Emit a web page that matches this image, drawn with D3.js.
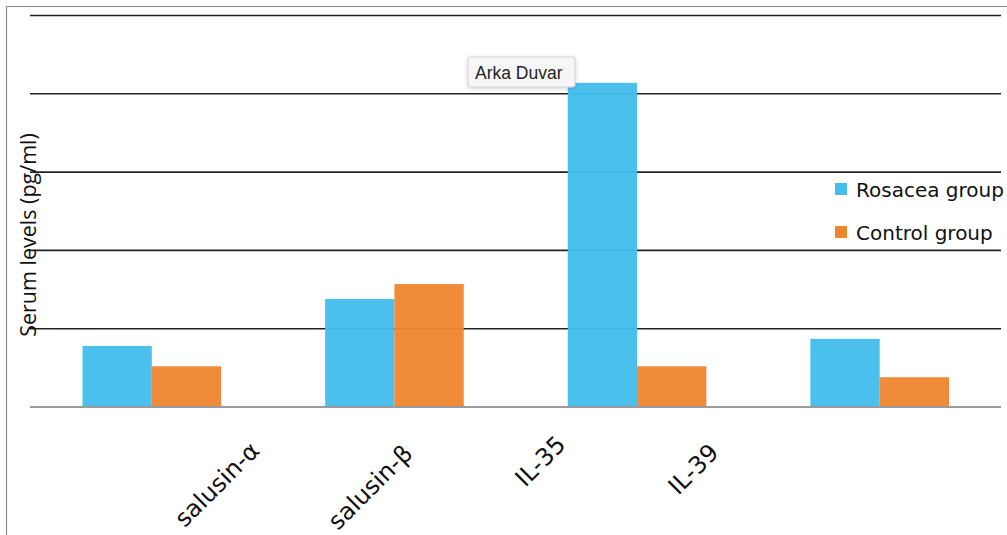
<!DOCTYPE html>
<html>
<head>
<meta charset="utf-8">
<script src="https://cdn.jsdelivr.net/npm/d3@7"></script>
<style>
  html, body { margin: 0; padding: 0; background: #fff; }
  svg { display: block; }
</style>
</head>
<body>
<script>
const categories = ["salusin-α", "salusin-β", "IL-35", "IL-39"];
const seriesNames = ["Rosacea group", "Control group"];
const rosacea = [0.78, 1.38, 4.14, 0.87];
const control = [0.52, 1.57, 0.52, 0.38];
const yTicks = [0, 1, 2, 3, 4, 5];
const colors = ["#45BDEC", "#EF8632"];

const W = 1007, H = 535;
const svg = d3.select("body").append("svg").attr("width", W).attr("height", H);

// outer frame
svg.append("path").attr("d", `M6.5,${H} V6.5 H${W}`).attr("fill", "none")
  .attr("stroke", "#8a8a8a").attr("stroke-width", 1.2);

const x = d3.scaleBand().domain(categories).range([30.5, 1001]).padding(0);
const y = d3.scaleLinear().domain([0, 5]).range([407, 15.5]);
const sub = d3.scaleBand().domain(seriesNames).range([0, x.bandwidth()]).paddingInner(0).paddingOuter(0.75);

// gridlines
svg.append("g").selectAll("line").data(yTicks.filter(d => d > 0)).join("line")
  .attr("x1", 30).attr("x2", 1001)
  .attr("y1", d => y(d)).attr("y2", d => y(d))
  .attr("stroke", "#222").attr("stroke-width", 1.6);

const series = [rosacea, control];
const rows = [];
categories.forEach((c, i) => series.forEach((s, j) => rows.push({c, name: seriesNames[j], v: s[i], j})));

svg.append("g").selectAll("rect").data(rows).join("rect")
  .attr("x", d => x(d.c) + sub(d.name))
  .attr("width", sub.bandwidth())
  .attr("y", d => y(d.v))
  .attr("height", d => y(0) - y(d.v))
  .attr("fill", d => colors[d.j])
  .attr("fill-opacity", 0.96);

// baseline
svg.append("line").attr("x1", 30).attr("x2", 1001).attr("y1", y(0)).attr("y2", y(0))
  .attr("stroke", "#9a9a9a").attr("stroke-width", 2);

// category labels (offset as in the original)
const lx = d3.scalePoint().domain(categories).range([250, 709]);
const labelY = [441, 444, 435, 443];
svg.append("g").selectAll("text").data(categories).join("text")
  .attr("transform", (d, i) => `translate(${lx(d)},${labelY[i]}) rotate(-45)`)
  .attr("text-anchor", "end")
  .attr("dy", "0.65em")
  .attr("font-family", "'DejaVu Sans', sans-serif")
  .attr("font-size", 24)
  .attr("fill", "#111")
  .text(d => d);

// y-axis title
svg.append("text")
  .attr("transform", "translate(36,235) rotate(-90)")
  .attr("text-anchor", "middle")
  .attr("font-family", "'Open Sans', sans-serif")
  .attr("font-size", 21.5)
  .attr("fill", "#111")
  .text("Serum levels (pg/ml)");

// legend
const lg = svg.append("g").selectAll("g").data(seriesNames).join("g")
  .attr("transform", (d, i) => `translate(835,${183 + i * 43})`);
lg.append("rect").attr("width", 12).attr("height", 12).attr("fill", (d, i) => colors[i]);
lg.append("text").attr("x", 21).attr("y", 14)
  .attr("font-family", "'DejaVu Sans', sans-serif")
  .attr("font-size", 20).attr("fill", "#111").text(d => d);

// tooltip
const tip = svg.append("g").attr("transform", "translate(468,57)");
const defs = svg.append("defs");
const f = defs.append("filter").attr("id", "sh").attr("x", "-20%").attr("y", "-30%").attr("width", "140%").attr("height", "160%");
f.append("feDropShadow").attr("dx", 0).attr("dy", 1).attr("stdDeviation", 2).attr("flood-color", "#000").attr("flood-opacity", 0.18);
tip.append("rect").attr("width", 107).attr("height", 30).attr("rx", 2)
  .attr("fill", "#f6f6f6").attr("stroke", "#d0d0d0").attr("stroke-width", 1).attr("filter", "url(#sh)");
tip.append("text").attr("x", 7).attr("y", 21.5)
  .attr("font-family", "'Liberation Sans', Arial, sans-serif").attr("font-size", 17.5).attr("fill", "#222")
  .text("Arka Duvar");
</script>
</body>
</html>
